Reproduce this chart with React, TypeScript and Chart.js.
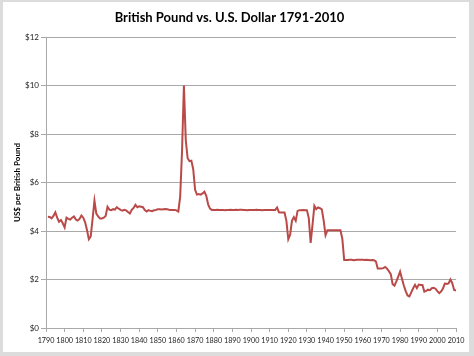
import React, { useEffect, useRef } from 'react';
import { Chart, registerables } from 'chart.js';

Chart.register(...registerables);

const TITLE = 'British Pound vs. U.S. Dollar 1791-2010';
const Y_TITLE = 'US$ per British Pound';
const FIRST_YEAR = 1790;
const LAST_YEAR = 2010;

// Category labels (one per year)
const years: string[] = [];
for (let y = FIRST_YEAR; y <= LAST_YEAR; y++) years.push(String(y));

// Y tick values (dollars)
const yTickValues = [0, 2, 4, 6, 8, 10, 12];

// US$ per British Pound, by era
const rates1790to1839 = [
  null, 4.59, 4.58, 4.52, 4.62, 4.77, 4.55, 4.38, 4.45, 4.32,
  4.15, 4.55, 4.50, 4.47, 4.55, 4.60, 4.47, 4.43, 4.50, 4.64,
  4.55, 4.36, 4.04, 3.66, 3.78, 4.50, 5.25, 4.72, 4.60, 4.52,
  4.52, 4.55, 4.62, 5.00, 4.88, 4.86, 4.90, 4.88, 4.98, 4.92,
  4.87, 4.84, 4.87, 4.85, 4.78, 4.72, 4.87, 4.95, 5.08, 4.98,
];
const rates1840to1879 = [
  5.02, 5.00, 4.98, 4.86, 4.80, 4.86, 4.83, 4.82, 4.86, 4.87,
  4.90, 4.90, 4.89, 4.90, 4.91, 4.90, 4.88, 4.87, 4.87, 4.87,
  4.85, 4.80, 5.42, 7.30, 10.00, 7.75, 7.00, 6.88, 6.90, 6.55,
  5.70, 5.50, 5.52, 5.50, 5.55, 5.62, 5.45, 5.10, 4.92, 4.87,
];
const rates1880to1919 = [
  4.87, 4.87, 4.88, 4.87, 4.87, 4.87, 4.86, 4.87, 4.87, 4.88,
  4.87, 4.87, 4.88, 4.87, 4.88, 4.88, 4.87, 4.87, 4.86, 4.87,
  4.87, 4.87, 4.87, 4.88, 4.87, 4.87, 4.86, 4.87, 4.87, 4.87,
  4.87, 4.87, 4.87, 4.87, 4.97, 4.77, 4.76, 4.76, 4.76, 4.42,
];
const rates1920to1969 = [
  3.66, 3.85, 4.43, 4.57, 4.42, 4.83, 4.86, 4.86, 4.87, 4.86,
  4.86, 4.53, 3.51, 4.24, 5.04, 4.90, 4.97, 4.94, 4.89, 4.43,
  3.83, 4.03, 4.03, 4.03, 4.03, 4.03, 4.03, 4.03, 4.03, 3.68,
  2.80, 2.80, 2.80, 2.81, 2.81, 2.79, 2.80, 2.81, 2.81, 2.81,
  2.81, 2.80, 2.81, 2.80, 2.79, 2.80, 2.79, 2.75, 2.45, 2.45,
];
const rates1970to2010 = [
  2.45, 2.47, 2.52, 2.45, 2.34, 2.22, 1.81, 1.75, 1.92, 2.12,
  2.33, 2.03, 1.75, 1.52, 1.34, 1.30, 1.47, 1.64, 1.78, 1.64,
  1.79, 1.77, 1.77, 1.50, 1.53, 1.58, 1.56, 1.64, 1.66, 1.62,
  1.52, 1.44, 1.50, 1.63, 1.83, 1.82, 1.84, 2.00, 1.85, 1.57,
  1.55,
];

const rates = [
  ...rates1790to1839,
  ...rates1840to1879,
  ...rates1880to1919,
  ...rates1920to1969,
  ...rates1970to2010,
];

const FONT = 'Lato, "Open Sans", "Liberation Sans", sans-serif';
const GRID = '#a9a9a9';
const LINE = '#b94a48';

export default function App() {
  const ref = useRef<HTMLCanvasElement | null>(null);

  useEffect(() => {
    if (!ref.current) return;
    const chart = new Chart(ref.current, {
      type: 'line',
      data: {
        labels: years,
        datasets: [
          {
            label: Y_TITLE,
            data: rates,
            borderColor: LINE,
            backgroundColor: LINE,
            borderWidth: 2,
            pointRadius: 0,
            tension: 0,
            fill: false,
          },
        ],
      },
      options: {
        animation: false,
        responsive: false,
        layout: { padding: { left: 0, right: 13, top: 0, bottom: 0 } },
        plugins: {
          legend: { display: false },
          tooltip: { enabled: false },
          title: {
            display: true,
            text: TITLE,
            color: '#000',
            font: { family: FONT, size: 13, weight: 'bold' },
            padding: { top: 8, bottom: 11.4 },
          },
        },
        scales: {
          x: {
            type: 'category',
            offset: false,
            grid: {
              display: true,
              drawOnChartArea: false,
              drawTicks: true,
              tickLength: 4,
              color: GRID,
              offset: false,
            },
            border: { color: GRID },
            ticks: {
              autoSkip: false,
              maxRotation: 0,
              minRotation: 0,
              padding: 4,
              color: '#222',
              font: { family: FONT, size: 7.2 },
              callback: (_v: any, index: number) => {
                const yr = FIRST_YEAR + index;
                return yr % 10 === 0 ? String(yr) : null;
              },
            },
            afterFit: (s: any) => {
              s.height = 24;
            },
          },
          y: {
            min: yTickValues[0],
            max: yTickValues[yTickValues.length - 1],
            ticks: {
              stepSize: 2,
              padding: 2,
              color: '#222',
              font: { family: FONT, size: 8 },
              callback: (v: any) => '$' + v,
            },
            grid: { color: GRID, tickLength: 5 },
            border: { color: GRID },
            title: {
              display: true,
              text: Y_TITLE,
              color: '#000',
              font: { family: FONT, size: 8, weight: 'bold' },
              padding: { top: 10, bottom: 0 },
            },
            afterFit: (s: any) => {
              s.width = 43;
            },
          },
        },
      },
    } as any);
    return () => chart.destroy();
  }, []);

  return (
    <div
      style={{
        position: 'fixed',
        left: 0,
        top: 0,
        width: 474,
        height: 356,
        background: '#dcdcdc',
      }}
    >
      <div
        style={{
          position: 'absolute',
          left: 3,
          top: 2,
          width: 466,
          height: 350,
          background: '#fff',
        }}
      >
        <canvas ref={ref} width={466} height={350} style={{ display: 'block' }} />
      </div>
    </div>
  );
}
